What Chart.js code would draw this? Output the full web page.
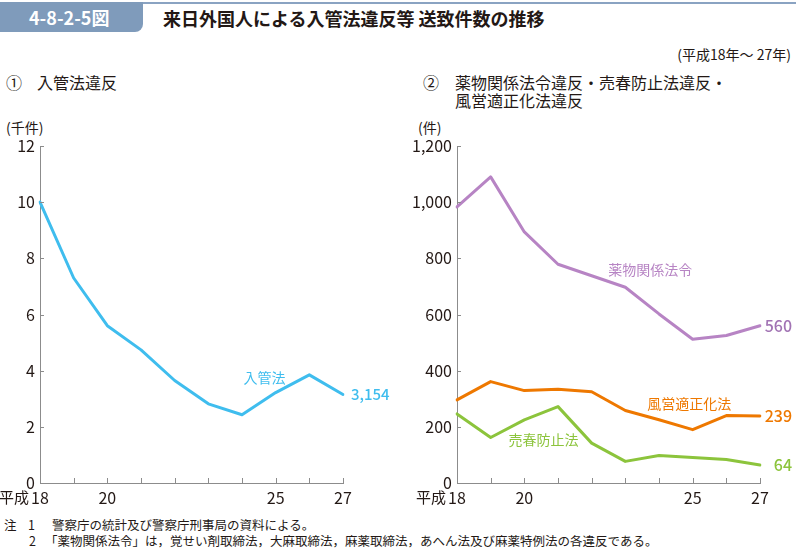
<!DOCTYPE html>
<html lang="ja">
<head>
<meta charset="utf-8">
<script src="https://cdn.jsdelivr.net/npm/chart.js@4/dist/chart.umd.min.js"></script>
<style>
  html, body { margin: 0; padding: 0; background: #fff; }
  body { width: 796px; height: 548px; position: relative; overflow: hidden;
         font-family: 'Noto Sans CJK JP', 'Noto Sans', sans-serif; color: #231815; }
  .abs { position: absolute; white-space: nowrap; }
  #topline { left: 0; top: 2px; width: 796px; height: 2px; background: #8aa3c2; }
  #figno { left: 0; top: 2px; width: 143px; height: 30px; background: #7f9bbb;
           border-bottom-right-radius: 8px; color: #fff; font-weight: bold; font-size: 18px;
           line-height: 30px; padding-left: 29px; box-sizing: border-box; }
  #title { left: 163px; top: 5px; font-size: 18px; font-weight: bold; line-height: 26px; }
  #period { right: 5px; top: 45px; font-size: 14px; line-height: 18px; }
  .sub { font-size: 16px; line-height: 19px; }
  .unit { font-size: 14px; line-height: 18px; }
  .note { font-size: 12.5px; line-height: 16px; }
  canvas { position: absolute; }
</style>
</head>
<body>
<div class="abs" id="topline"></div>
<div class="abs" id="figno">4-8-2-5図</div>
<div class="abs" id="title">来日外国人による入管法違反等 送致件数の推移</div>
<div class="abs" id="period">(平成18年～ 27年)</div>

<div class="abs sub" style="left:6px; top:73px;">①</div>
<div class="abs sub" style="left:37px; top:73px;">入管法違反</div>
<div class="abs sub" style="left:423px; top:73px;">②</div>
<div class="abs sub" style="left:455px; top:73px;">薬物関係法令違反・売春防止法違反・</div>
<div class="abs sub" style="left:455px; top:91px;">風営適正化法違反</div>

<div class="abs unit" style="left:6px; top:118px;">(千件)</div>
<div class="abs unit" style="left:418px; top:118px;">(件)</div>

<canvas id="chart1" width="400" height="390" style="left:0; top:120px;"></canvas>
<canvas id="chart2" width="396" height="390" style="left:400px; top:120px;"></canvas>

<div class="abs note" style="left:4px; top:517px;">注</div>
<div class="abs note" style="left:28px; top:517px;">1</div>
<div class="abs note" style="left:52px; top:517px;">警察庁の統計及び警察庁刑事局の資料による。</div>
<div class="abs note" style="left:29px; top:533px;">2</div>
<div class="abs note" style="left:45px; top:533px;">「薬物関係法令」は，覚せい剤取締法，大麻取締法，麻薬取締法，あへん法及び麻薬特例法の各違反である。</div>

<script>
// 平成18年～27年
const years = ['18', '19', '20', '21', '22', '23', '24', '25', '26', '27'];
const shownYears = ['18', '20', '25', '27'];

// ① 入管法違反（千件）
const immigration = [10.0, 7.3, 5.6, 4.74, 3.65, 2.82, 2.43, 3.22, 3.85, 3.154];

// ② 件数
const drugs = [983, 1090, 894, 779, 738, 697, 602, 512, 525, 560];
const fueiho = [296, 361, 329, 334, 325, 258, 225, 190, 240, 239];
const prostitution = [246, 162, 225, 272, 142, 77, 98, 91, 84, 64];

const FONT = "'Noto Sans CJK JP', 'Noto Sans', sans-serif";
const AXIS = '#8c8c8c';
const INK = '#231815';

// 目盛りを内側に描く + 「平成」+ 系列ラベル
const decorPlugin = {
    id: 'decor',
    afterDraw(chart, args, opts) {
        const ctx = chart.ctx;
        const x = chart.scales.x, y = chart.scales.y;
        const area = chart.chartArea;
        ctx.save();
        ctx.strokeStyle = AXIS;
        ctx.lineWidth = 1;
        ctx.beginPath();
        x.ticks.forEach((t, i) => {
            const px = Math.round(x.getPixelForValue(i)) + 0.5;
            ctx.moveTo(px, area.bottom);
            ctx.lineTo(px, area.bottom - 5);
        });
        y.ticks.forEach(t => {
            const py = Math.round(y.getPixelForValue(t.value)) + 0.5;
            ctx.moveTo(area.left, py);
            ctx.lineTo(area.left + 4, py);
        });
        ctx.stroke();

        // 「平成」
        ctx.font = '16px ' + FONT;
        const w18 = ctx.measureText(years[0]).width;
        ctx.font = '15px ' + FONT;
        ctx.fillStyle = INK;
        ctx.textBaseline = 'middle';
        ctx.textAlign = 'right';
        ctx.fillText('平成', x.getPixelForValue(0) - w18 / 2 - 2, area.bottom + 14);

        // 系列名と末尾の値
        (opts.labels || []).forEach(l => {
            const px = x.getPixelForValue(l.xi) + (l.dx || 0);
            const py = y.getPixelForValue(l.yv);
            ctx.font = (l.bold ? '500 ' : '') + l.size + 'px ' + FONT;
            ctx.fillStyle = l.color;
            ctx.textAlign = l.align || 'center';
            ctx.fillText(l.text, px, py);
        });
        ctx.restore();
    }
};

function makeOptions(max, step, yWidth, padRight, labels) {
    return {
        responsive: false,
        animation: false,
        devicePixelRatio: 1,
        layout: { padding: { top: 26, right: padRight, left: 0, bottom: 0 } },
        plugins: {
            legend: { display: false },
            tooltip: { enabled: false },
            decor: { labels: labels }
        },
        elements: { point: { radius: 0 }, line: { tension: 0, borderJoinStyle: 'round', borderCapStyle: 'round' } },
        scales: {
            x: {
                grid: { display: false, drawTicks: false },
                border: { color: AXIS, width: 1 },
                ticks: {
                    color: INK, font: { family: FONT, size: 16 }, padding: 5,
                    autoSkip: false, maxRotation: 0,
                    callback: function (v, i) {
                        const lab = years[i];
                        return shownYears.includes(lab) ? lab : '';
                    }
                },
                afterFit: s => { s.height = 27; }
            },
            y: {
                min: 0, max: max,
                grid: { display: false, drawTicks: false },
                border: { color: AXIS, width: 1 },
                ticks: { stepSize: step, color: INK, font: { family: FONT, size: 16 }, padding: 5 },
                afterFit: s => { s.width = yWidth; }
            }
        }
    };
}

new Chart(document.getElementById('chart1'), {
    type: 'line',
    data: {
        labels: years,
        datasets: [{ label: '入管法', data: immigration, borderColor: '#3fbdee', borderWidth: 3 }]
    },
    options: makeOptions(12, 2, 40, 57, [
        { text: '入管法', xi: 6.67, yv: 3.75, color: '#3fbdee', size: 14 },
        { text: '3,154', xi: 9, yv: 3.154, dx: 8, align: 'left', color: '#3fbdee', size: 15, bold: true }
    ]),
    plugins: [decorPlugin]
});

new Chart(document.getElementById('chart2'), {
    type: 'line',
    data: {
        labels: years,
        datasets: [
            { label: '薬物関係法令', data: drugs, borderColor: '#b784c4', borderWidth: 3 },
            { label: '風営適正化法', data: fueiho, borderColor: '#ee7800', borderWidth: 3 },
            { label: '売春防止法', data: prostitution, borderColor: '#8cc43c', borderWidth: 3 }
        ]
    },
    options: makeOptions(1200, 200, 57, 36, [
        { text: '薬物関係法令', xi: 5.74, yv: 758, color: '#b784c4', size: 14 },
        { text: '560', xi: 9, yv: 560, dx: 32, align: 'right', color: '#a274b4', size: 16, bold: true },
        { text: '風営適正化法', xi: 6.9, yv: 284, color: '#ee7800', size: 14 },
        { text: '239', xi: 9, yv: 239, dx: 32, align: 'right', color: '#ee7800', size: 16, bold: true },
        { text: '売春防止法', xi: 2.57, yv: 153, color: '#8cc43c', size: 14 },
        { text: '64', xi: 9, yv: 64, dx: 32, align: 'right', color: '#8cc43c', size: 16, bold: true }
    ]),
    plugins: [decorPlugin]
});
</script>
</body>
</html>
